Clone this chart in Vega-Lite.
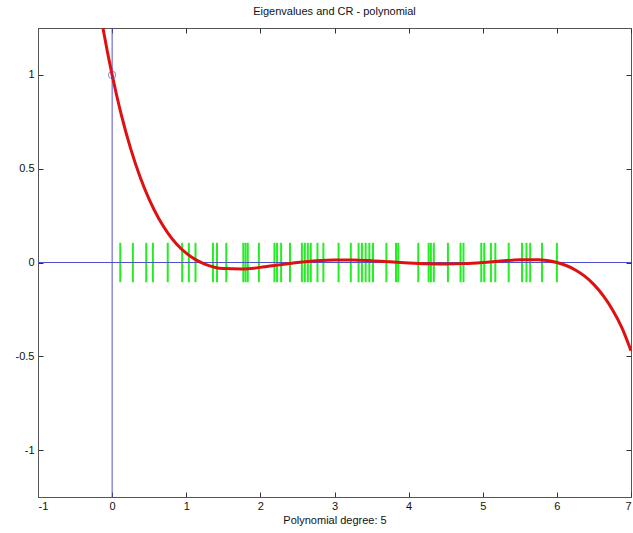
{
  "$schema": "https://vega.github.io/schema/vega-lite/v6.json",
  "autosize": {"type": "none"},
  "padding": {"left": 38, "top": 28, "right": 2, "bottom": 36},
  "width": 593,
  "height": 469,
  "background": "white",
  "title": {"text": "Eigenvalues and CR - polynomial", "fontSize": 11, "fontWeight": "normal", "font": "Liberation Sans", "color": "#111", "offset": 11},
  "datasets": {
    "eig": [
      {"lam": 0.11}, {"lam": 0.28}, {"lam": 0.46}, {"lam": 0.55}, {"lam": 0.75}, {"lam": 0.945}, {"lam": 1.035}, {"lam": 1.125},
      {"lam": 1.36}, {"lam": 1.415}, {"lam": 1.54}, {"lam": 1.77}, {"lam": 1.8}, {"lam": 1.83}, {"lam": 1.98}, {"lam": 2.19},
      {"lam": 2.225}, {"lam": 2.28}, {"lam": 2.4}, {"lam": 2.56}, {"lam": 2.6}, {"lam": 2.64}, {"lam": 2.68}, {"lam": 2.77},
      {"lam": 2.85}, {"lam": 3.055}, {"lam": 3.22}, {"lam": 3.325}, {"lam": 3.37}, {"lam": 3.42}, {"lam": 3.47}, {"lam": 3.52},
      {"lam": 3.7}, {"lam": 3.83}, {"lam": 3.86}, {"lam": 4.13}, {"lam": 4.27}, {"lam": 4.3}, {"lam": 4.34}, {"lam": 4.53},
      {"lam": 4.7}, {"lam": 4.74}, {"lam": 4.98}, {"lam": 5.02}, {"lam": 5.11}, {"lam": 5.17}, {"lam": 5.35}, {"lam": 5.53},
      {"lam": 5.59}, {"lam": 5.64}, {"lam": 5.8}, {"lam": 6.0}
    ],
    "curve": [
      {"x": -0.125, "y": 1.252}, {"x": -0.0625, "y": 1.121}, {"x": 0, "y": 1.0}, {"x": 0.0625, "y": 0.889},
      {"x": 0.125, "y": 0.786}, {"x": 0.25, "y": 0.607}, {"x": 0.375, "y": 0.458}, {"x": 0.5, "y": 0.336},
      {"x": 0.625, "y": 0.237}, {"x": 0.75, "y": 0.158}, {"x": 0.875, "y": 0.096}, {"x": 1.0, "y": 0.0496},
      {"x": 1.125, "y": 0.0154}, {"x": 1.25, "y": -0.0084}, {"x": 1.5, "y": -0.0323}, {"x": 1.75, "y": -0.0349},
      {"x": 2.0, "y": -0.026}, {"x": 2.25, "y": -0.0127}, {"x": 2.5, "y": 0.0}, {"x": 2.75, "y": 0.0093},
      {"x": 3.0, "y": 0.0138}, {"x": 3.25, "y": 0.0137}, {"x": 3.5, "y": 0.0098}, {"x": 3.75, "y": 0.0038},
      {"x": 4.0, "y": -0.0024}, {"x": 4.25, "y": -0.007}, {"x": 4.5, "y": -0.0085}, {"x": 4.75, "y": -0.006},
      {"x": 5.0, "y": 0.0}, {"x": 5.25, "y": 0.008}, {"x": 5.5, "y": 0.0147}, {"x": 5.75, "y": 0.0146},
      {"x": 6.0, "y": 0.0}, {"x": 6.125, "y": -0.0159}, {"x": 6.25, "y": -0.0396}, {"x": 6.375, "y": -0.0729},
      {"x": 6.5, "y": -0.1178}, {"x": 6.625, "y": -0.1764}, {"x": 6.75, "y": -0.2514}, {"x": 6.875, "y": -0.3452},
      {"x": 7.0, "y": -0.47}
    ],
    "origin": [{"x": 0, "y": 1}]
  },
  "layer": [
    {
      "data": {"name": "eig"},
      "mark": {"type": "rule", "color": "#22ee22", "strokeWidth": 2},
      "encoding": {
        "x": {"field": "lam", "type": "quantitative", "scale": {"domain": [-1, 7], "nice": false, "zero": false}, "axis": null},
        "y": {"datum": -0.105, "type": "quantitative", "scale": {"domain": [-1.25, 1.25], "nice": false, "zero": false}, "axis": null},
        "y2": {"datum": 0.105}
      }
    },
    {
      "data": {"values": [{"v": 0}]},
      "mark": {"type": "rule", "color": "#5050cc", "strokeWidth": 1},
      "encoding": {
        "y": {"field": "v", "type": "quantitative", "scale": {"domain": [-1.25, 1.25], "nice": false, "zero": false}, "axis": null}
      }
    },
    {
      "data": {"values": [{"v": 0}]},
      "mark": {"type": "rule", "color": "#5050cc", "strokeWidth": 1},
      "encoding": {
        "x": {"field": "v", "type": "quantitative", "scale": {"domain": [-1, 7], "nice": false, "zero": false}, "axis": null}
      }
    },
    {
      "data": {"name": "curve"},
      "mark": {"type": "line", "color": "#dd1111", "strokeWidth": 3, "clip": true, "interpolate": "monotone"},
      "encoding": {
        "x": {"field": "x", "type": "quantitative", "scale": {"domain": [-1, 7], "nice": false, "zero": false},
              "axis": {"values": [-1, 0, 1, 2, 3, 4, 5, 6, 7], "labelExpr": "'' + datum.value", "title": "Polynomial degree: 5", "titlePadding": 3, "labelPadding": 8}},
        "y": {"field": "y", "type": "quantitative", "scale": {"domain": [-1.25, 1.25], "nice": false, "zero": false},
              "axis": {"values": [-1, -0.5, 0, 0.5, 1], "labelExpr": "'' + datum.value", "title": null, "labelPadding": 9}}
      }
    },
    {
      "data": {"name": "origin"},
      "mark": {"type": "point", "color": "#5050cc", "filled": false, "size": 55, "strokeWidth": 1},
      "encoding": {
        "x": {"field": "x", "type": "quantitative", "scale": {"domain": [-1, 7], "nice": false, "zero": false},
              "axis": {"orient": "top", "values": [-1, 0, 1, 2, 3, 4, 5, 6, 7], "labels": false, "title": null, "domain": false}},
        "y": {"field": "y", "type": "quantitative", "scale": {"domain": [-1.25, 1.25], "nice": false, "zero": false},
              "axis": {"orient": "right", "values": [-1, -0.5, 0, 0.5, 1], "labels": false, "title": null, "domain": false}}
      }
    }
  ],
  "resolve": {"axis": {"x": "independent", "y": "independent"}},
  "config": {
    "view": {"stroke": "#555555", "strokeWidth": 1},
    "axis": {
      "grid": false,
      "domainColor": "#555555",
      "tickColor": "#333333",
      "tickSize": -5,
      "labelFont": "Liberation Sans",
      "labelFontSize": 11,
      "labelColor": "#111111",
      "labelPadding": 6,
      "titleFont": "Liberation Sans",
      "titleFontSize": 11,
      "titleFontWeight": "normal",
      "titleColor": "#111111"
    }
  }
}
